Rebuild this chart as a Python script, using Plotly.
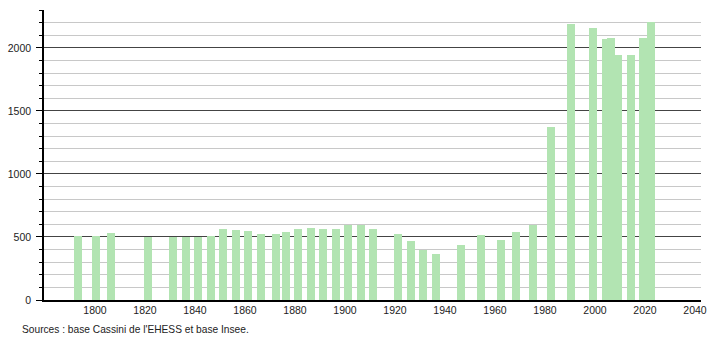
import plotly.graph_objects as go

years = [1793, 1800, 1806, 1821, 1831, 1836, 1841, 1846, 1851, 1856, 1861, 1866,
         1872, 1876, 1881, 1886, 1891, 1896, 1901, 1906, 1911, 1921, 1926, 1931,
         1936, 1946, 1954, 1962, 1968, 1975, 1982, 1990, 1999, 2004, 2006, 2009,
         2014, 2019, 2022]
population = [510, 508, 535, 500, 500, 500, 500, 508, 561, 553, 545, 524,
              524, 540, 561, 572, 561, 564, 593, 593, 561, 524, 471, 395,
              365, 434, 516, 479, 540, 596, 1369, 2192, 2158, 2073, 2081, 1946,
              1946, 2079, 2206]
x_ticks = [1800, 1820, 1840, 1860, 1880, 1900, 1920, 1940, 1960, 1980, 2000, 2020, 2040]
y_ticks = [0, 500, 1000, 1500, 2000]
source_text = "Sources : base Cassini de l'EHESS et base Insee."

fig = go.Figure(go.Bar(
    x=years, y=population,
    width=3.1, offset=-1.3,
    marker=dict(color="#b2e4b2", line=dict(width=0)),
    hoverinfo="x+y",
))

fig.update_layout(
    width=710, height=340,
    margin=dict(l=44, r=9, t=10, b=40, autoexpand=False),
    plot_bgcolor="white", paper_bgcolor="white",
    font=dict(family="Liberation Sans, Arial, sans-serif", size=10.5, color="#222"),
    showlegend=False,
    bargap=0,
    xaxis=dict(
        range=[1779.6, 2042.4],
        tickvals=x_ticks,
        ticktext=[str(v) for v in x_ticks],
        showgrid=False, zeroline=False, automargin=False,
        showline=True, linecolor="black", linewidth=1.5,
        ticks="", ticklen=0,
    ),
    yaxis=dict(
        range=[0, 2300],
        tickvals=y_ticks, automargin=False,
        showgrid=True, gridcolor="#444", gridwidth=1,
        zeroline=False,
        showline=True, linecolor="black", linewidth=1.5,
        ticks="outside", ticklen=6, tickcolor="black", tickwidth=1,
        ticklabelstandoff=3,
        minor=dict(dtick=100, tick0=0, showgrid=True, gridcolor="#c8c8c8",
                   gridwidth=1, ticks="outside", ticklen=3, tickcolor="black"),
    ),
    annotations=[dict(
        text=source_text, xref="paper", yref="paper",
        x=-24/657, y=-29/290, xanchor="left", yanchor="middle",
        showarrow=False, font=dict(size=10.2, color="#222"),
    )],
)

fig.write_html("out.html")
